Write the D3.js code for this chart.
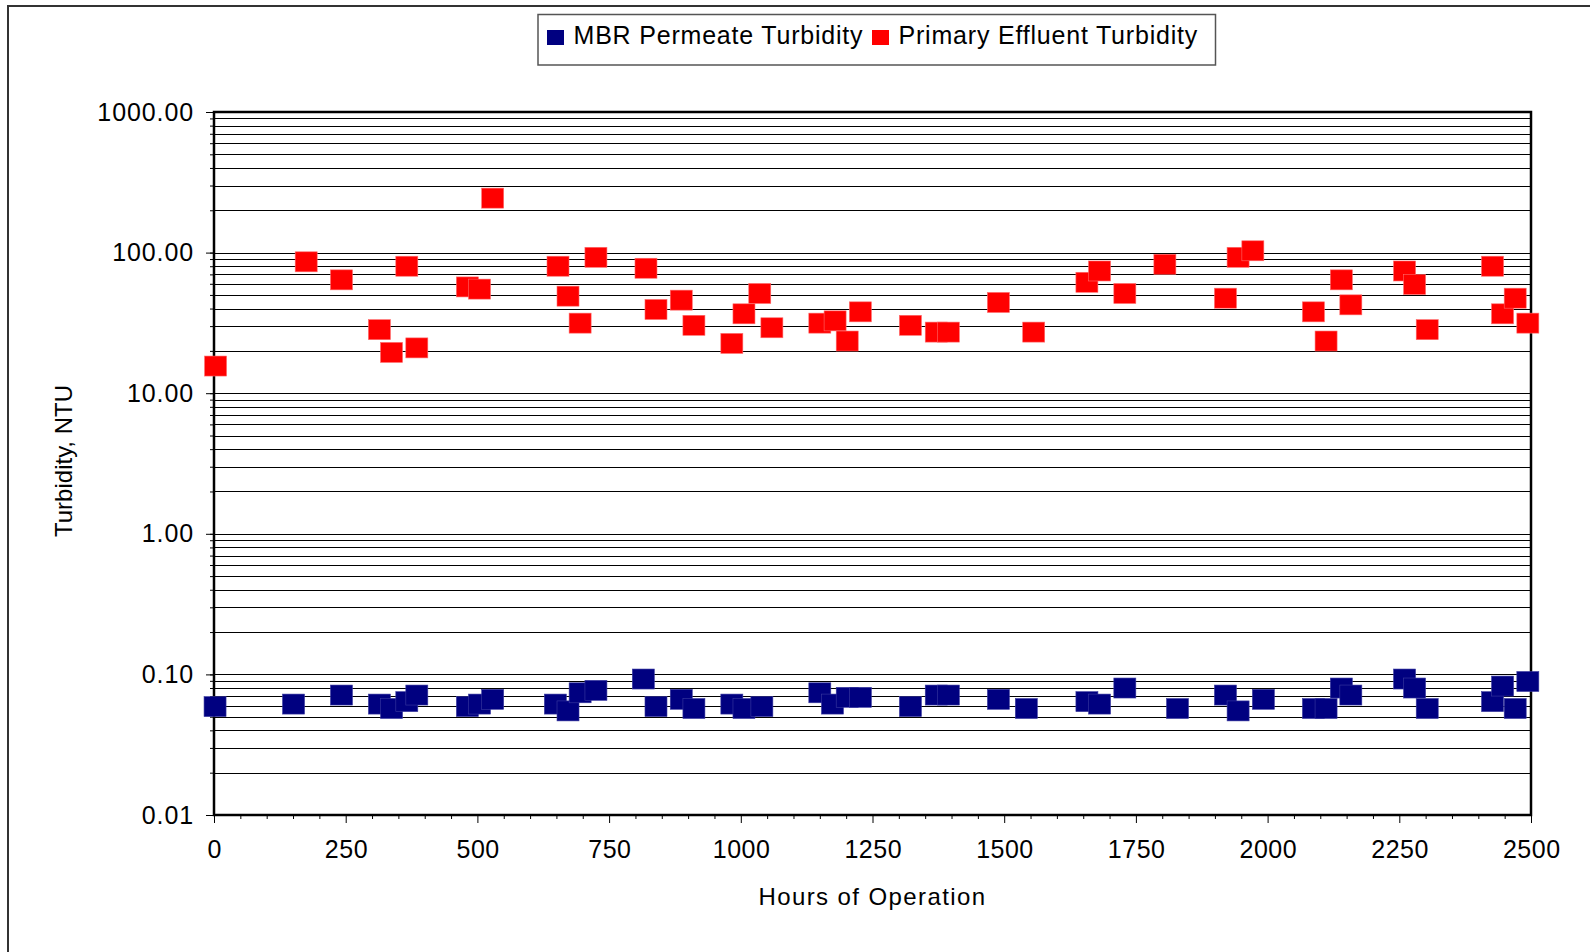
<!DOCTYPE html>
<html>
<head>
<meta charset="utf-8">
<script src="https://cdn.jsdelivr.net/npm/d3@7"></script>
<style>
  body { margin: 0; background: #fff; }
  text { font-family: "Liberation Sans", Arial, sans-serif; fill: #000; }
</style>
</head>
<body>
<div id="chart"></div>
<script>
// data
var seriesNames = ["MBR Permeate Turbidity", "Primary Effluent Turbidity"];

var mbrHours = [2, 151, 242, 314, 337, 366, 385, 481, 504, 529,
  648, 672, 695, 725, 815, 839, 887, 911, 983, 1006, 1040,
  1150, 1174, 1202, 1227, 1322, 1371, 1394, 1489, 1542,
  1657, 1681, 1729, 1829, 1920, 1944, 1992, 2087, 2111, 2140, 2158,
  2260, 2279, 2303, 2427, 2446, 2470, 2494];
var mbrNTU = [0.059, 0.0615, 0.0713, 0.0615, 0.0572, 0.064, 0.0713, 0.059, 0.0615, 0.0665,
  0.0615, 0.055, 0.074, 0.077, 0.0927, 0.059, 0.0665, 0.0572, 0.0615, 0.0572, 0.059,
  0.074, 0.0615, 0.0687, 0.0687, 0.059, 0.0713, 0.0713, 0.0665, 0.0572,
  0.064, 0.0615, 0.080, 0.0572, 0.0713, 0.055, 0.0665, 0.0572, 0.0572, 0.080, 0.0713,
  0.0927, 0.080, 0.0572, 0.064, 0.0826, 0.0572, 0.089];

var primaryHours = [3, 175, 242, 314, 337, 366, 385, 481, 504, 529,
  653, 672, 695, 725, 820, 839, 887, 911, 983, 1006, 1036, 1059,
  1150, 1179, 1202, 1227, 1322, 1371, 1394, 1489, 1556,
  1657, 1681, 1729, 1805, 1920, 1944, 1972, 2087, 2111, 2140, 2158,
  2260, 2279, 2303, 2427, 2446, 2470, 2494];
var primaryNTU = [15.6, 86, 64, 28.3, 19.5, 80, 21, 57, 55, 244,
  80, 49, 31.5, 92.6, 77.4, 39.4, 45.9, 30.4, 22.6, 36.7, 51.2, 29.2,
  31.5, 32.7, 23.5, 37.9, 30.4, 27.2, 27.2, 44.2, 27.2,
  61.5, 74, 51.2, 82.6, 47.4, 92.6, 103, 37.9, 23.5, 64, 42.5,
  74, 59.3, 28.3, 80, 36.7, 47.4, 31.5];

var xMajorTicks = [0, 250, 500, 750, 1000, 1250, 1500, 1750, 2000, 2250, 2500];
var yMajorTicks = [0.01, 0.1, 1, 10, 100, 1000];

var svgWidth = 1590;
var svgHeight = 952;

var margin = {
  top: 112,
  right: 59,
  bottom: 137,
  left: 214
};

var width = svgWidth - margin.left - margin.right;
var height = svgHeight - margin.top - margin.bottom;

var svg = d3.select("#chart")
  .append("svg")
  .attr("width", svgWidth)
  .attr("height", svgHeight);

// outer chart frame (runs off the page on the right/bottom)
svg.append("rect")
  .attr("x", 8)
  .attr("y", 6)
  .attr("width", 1700)
  .attr("height", 1000)
  .attr("fill", "none")
  .attr("stroke", "#333")
  .attr("stroke-width", 2);

var chartGroup = svg.append("g")
  .attr("transform", `translate(${margin.left}, ${margin.top})`);

var xScale = d3.scaleLinear()
  .domain([0, 2500])
  .range([0, width]);

var yScale = d3.scaleLog()
  .domain([0.01, 1000])
  .range([height, 0]);

// gridlines at every 1..9 x decade
var gridValues = yScale.ticks();
chartGroup.append("g")
  .selectAll("line")
  .data(gridValues)
  .enter()
  .append("line")
  .attr("x1", 0)
  .attr("x2", width)
  .attr("y1", d => Math.round(yScale(d)) + 0.5)
  .attr("y2", d => Math.round(yScale(d)) + 0.5)
  .attr("stroke", "#000")
  .attr("stroke-width", 1);

// minor ticks
var xMinor = d3.range(0, 2501, 50).filter(d => d % 250 !== 0);
chartGroup.append("g")
  .attr("transform", `translate(0, ${height})`)
  .call(d3.axisBottom(xScale).tickValues(xMinor).tickSize(4).tickFormat(""))
  .call(g => g.select(".domain").remove());

chartGroup.append("g")
  .call(d3.axisLeft(yScale).tickValues(gridValues).tickSize(4).tickFormat(""))
  .call(g => g.select(".domain").remove());

// major axes
var xAxis = chartGroup.append("g")
  .attr("transform", `translate(0, ${height})`)
  .call(d3.axisBottom(xScale).tickValues(xMajorTicks).tickSize(8).tickPadding(17).tickFormat(d3.format("d")));

var yAxis = chartGroup.append("g")
  .call(d3.axisLeft(yScale).tickValues(yMajorTicks).tickSize(8).tickPadding(12).tickFormat(d3.format(".2f")));

[xAxis, yAxis].forEach(function(ax) {
  ax.selectAll("text")
    .style("font-size", "25px")
    .style("font-family", "'Liberation Sans', Arial, sans-serif")
    .attr("fill", "#000");
  ax.selectAll("line").attr("stroke", "#000");
  ax.select(".domain").remove();
});
yAxis.selectAll("text").style("letter-spacing", "0.9px");
xAxis.selectAll("text").style("letter-spacing", "0.5px").attr("dx", "0.25px");

// plot frame
chartGroup.append("rect")
  .attr("x", 0)
  .attr("y", 0)
  .attr("width", width)
  .attr("height", height)
  .attr("fill", "none")
  .attr("stroke", "#000")
  .attr("stroke-width", 2.5);

// markers
var mbrData = mbrHours.map((h, i) => ({hours: h, ntu: mbrNTU[i]}));
var primaryData = primaryHours.map((h, i) => ({hours: h, ntu: primaryNTU[i]}));

chartGroup.append("g")
  .selectAll("rect")
  .data(mbrData)
  .enter()
  .append("rect")
  .attr("x", d => xScale(d.hours) - 11)
  .attr("y", d => yScale(d.ntu) - 10)
  .attr("width", 22)
  .attr("height", 20)
  .attr("fill", "#000080")
  .attr("stroke", "#3a3aa0")
  .attr("stroke-width", 0.6);

chartGroup.append("g")
  .selectAll("rect")
  .data(primaryData)
  .enter()
  .append("rect")
  .attr("x", d => xScale(d.hours) - 11)
  .attr("y", d => yScale(d.ntu) - 10)
  .attr("width", 22)
  .attr("height", 20)
  .attr("fill", "#ff0000")
  .attr("stroke", "#ff6a6a")
  .attr("stroke-width", 0.6);

// axis titles
chartGroup.append("text")
  .attr("x", width / 2)
  .attr("y", height + 90)
  .attr("text-anchor", "middle")
  .style("font-size", "24px")
  .style("letter-spacing", "1.4px")
  .text("Hours of Operation");

svg.append("text")
  .attr("transform", `translate(72, 461) rotate(-90)`)
  .attr("text-anchor", "middle")
  .style("font-size", "24px")
  .text("Turbidity, NTU");

// legend
var legend = svg.append("g");
legend.append("rect")
  .attr("x", 538)
  .attr("y", 14.5)
  .attr("width", 677.5)
  .attr("height", 50.5)
  .attr("fill", "#fff")
  .attr("stroke", "#555")
  .attr("stroke-width", 1.5);

var legendItems = [
  {name: seriesNames[0], color: "#000080", x: 547},
  {name: seriesNames[1], color: "#ff0000", x: 872}
];

legendItems.forEach(function(item) {
  legend.append("rect")
    .attr("x", item.x)
    .attr("y", 30)
    .attr("width", 17)
    .attr("height", 15)
    .attr("fill", item.color);
  legend.append("text")
    .attr("x", item.x + 26.5)
    .attr("y", 44)
    .style("font-size", "25px")
    .style("letter-spacing", "0.8px")
    .text(item.name);
});
</script>
</body>
</html>
